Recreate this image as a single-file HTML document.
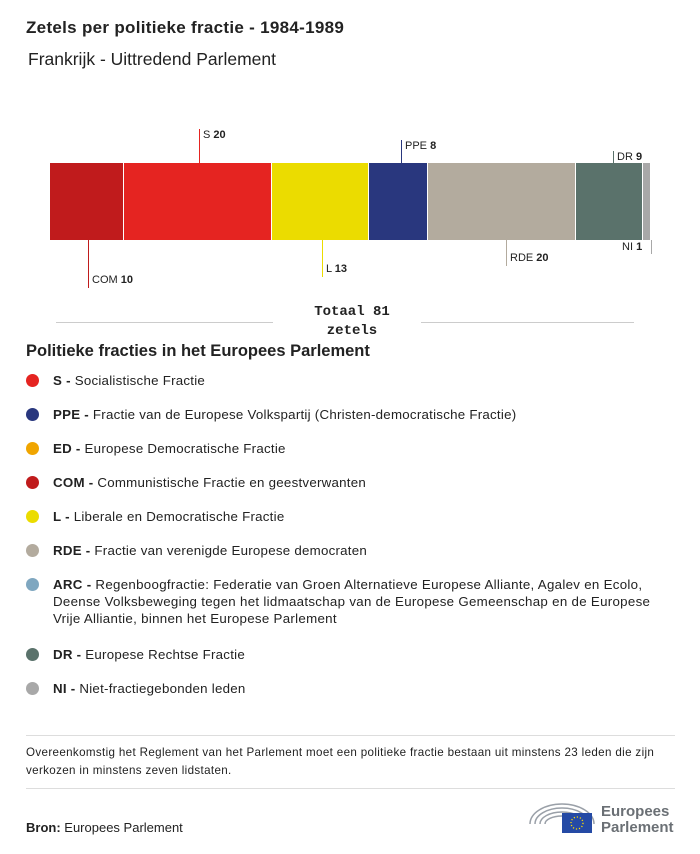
<!DOCTYPE html>
<html><head><meta charset="utf-8"><style>
body{margin:0;width:700px;height:854px;background:#fff;font-family:"Liberation Sans",sans-serif;color:#222;position:relative;overflow:hidden}
.a{position:absolute}
.seg{position:absolute;top:163px;height:77px}
.lab{position:absolute;font-size:11px;white-space:nowrap}
.vl{position:absolute;width:1px}
.dot{position:absolute;left:26px;width:13px;height:13px;border-radius:50%}
.tx{position:absolute;left:53px;font-size:13.3px;line-height:17px;width:640px;white-space:nowrap;letter-spacing:0.25px}
</style></head><body>
<div class="a" style="left:26px;top:18px;font-size:17px;font-weight:bold;letter-spacing:0.3px">Zetels per politieke fractie - 1984-1989</div>
<div class="a" style="left:28px;top:49px;font-size:17.5px">Frankrijk - Uittredend Parlement</div>

<div class="seg" style="left:50px;width:73px;background:#c01b1c"></div>
<div class="seg" style="left:124px;width:147px;background:#e52421"></div>
<div class="seg" style="left:272px;width:96px;background:#ebdc00"></div>
<div class="seg" style="left:369px;width:58px;background:#29377e"></div>
<div class="seg" style="left:428px;width:147px;background:#b3ab9e"></div>
<div class="seg" style="left:576px;width:66px;background:#5a726b"></div>
<div class="seg" style="left:643px;width:7px;background:#a8a8a8"></div>

<div class="vl" style="left:199px;top:129px;height:34px;background:#e52421"></div>
<div class="lab" style="left:203px;top:129px">S <b>20</b></div>
<div class="vl" style="left:401px;top:140px;height:23px;background:#29377e"></div>
<div class="lab" style="left:405px;top:140px">PPE <b>8</b></div>
<div class="vl" style="left:613px;top:151px;height:12px;background:#5a726b"></div>
<div class="lab" style="left:617px;top:151px">DR <b>9</b></div>
<div class="vl" style="left:88px;top:240px;height:48px;background:#c01b1c"></div>
<div class="lab" style="left:92px;top:274px">COM <b>10</b></div>
<div class="vl" style="left:322px;top:240px;height:37px;background:#ebdc00"></div>
<div class="lab" style="left:326px;top:263px">L <b>13</b></div>
<div class="vl" style="left:506px;top:240px;height:26px;background:#b3ab9e"></div>
<div class="lab" style="left:510px;top:252px">RDE <b>20</b></div>
<div class="vl" style="left:651px;top:240px;height:14px;background:#a8a8a8"></div>
<div class="lab" style="left:622px;top:241px">NI <b>1</b></div>

<div class="a" style="left:56px;top:322px;width:217px;height:1px;background:#ccc"></div>
<div class="a" style="left:421px;top:322px;width:213px;height:1px;background:#ccc"></div>
<div class="a" style="left:290px;top:303px;width:124px;text-align:center;font-family:'Liberation Mono',monospace;font-weight:bold;font-size:14px;line-height:19px">Totaal 81<br>zetels</div>

<div class="a" style="left:26px;top:342px;font-size:16.5px;font-weight:bold">Politieke fracties in het Europees Parlement</div>

<div class="dot" style="top:374px;background:#e52421"></div><div class="tx" style="top:372px"><b>S -</b> Socialistische Fractie</div>
<div class="dot" style="top:408px;background:#29377e"></div><div class="tx" style="top:406px"><b>PPE -</b> Fractie van de Europese Volkspartij (Christen-democratische Fractie)</div>
<div class="dot" style="top:442px;background:#f0a500"></div><div class="tx" style="top:440px"><b>ED -</b> Europese Democratische Fractie</div>
<div class="dot" style="top:476px;background:#c01b1c"></div><div class="tx" style="top:474px"><b>COM -</b> Communistische Fractie en geestverwanten</div>
<div class="dot" style="top:510px;background:#ebdc00"></div><div class="tx" style="top:508px"><b>L -</b> Liberale en Democratische Fractie</div>
<div class="dot" style="top:544px;background:#b3ab9e"></div><div class="tx" style="top:542px"><b>RDE -</b> Fractie van verenigde Europese democraten</div>
<div class="dot" style="top:578px;background:#7fa7c0"></div><div class="tx" style="top:576px;letter-spacing:0.3px"><b>ARC -</b> Regenboogfractie: Federatie van Groen Alternatieve Europese Alliante, Agalev en Ecolo,<br>Deense Volksbeweging tegen het lidmaatschap van de Europese Gemeenschap en de Europese<br>Vrije Alliantie, binnen het Europese Parlement</div>
<div class="dot" style="top:648px;background:#5a726b"></div><div class="tx" style="top:646px"><b>DR -</b> Europese Rechtse Fractie</div>
<div class="dot" style="top:682px;background:#a8a8a8"></div><div class="tx" style="top:680px"><b>NI -</b> Niet-fractiegebonden leden</div>

<div class="a" style="left:26px;top:735px;width:649px;height:1px;background:#ddd"></div>
<div class="a" style="left:26px;top:744px;width:660px;font-size:11.6px;line-height:18px;letter-spacing:0.35px;white-space:nowrap">Overeenkomstig het Reglement van het Parlement moet een politieke fractie bestaan uit minstens 23 leden die zijn<br>verkozen in minstens zeven lidstaten.</div>
<div class="a" style="left:26px;top:788px;width:649px;height:1px;background:#ddd"></div>
<div class="a" style="left:26px;top:820px;font-size:13px"><b>Bron:</b> Europees Parlement</div>

<svg class="a" style="left:528px;top:798px" width="70" height="38" viewBox="0 0 70 38">
<g fill="none" stroke="#9aa0a8" stroke-width="1.5">
<path d="M2 26 A32 20 0 0 1 66 26"/><path d="M7 26 A27 16 0 0 1 61 26"/><path d="M12 26 A22 12 0 0 1 56 26"/><path d="M17 26 A17 8 0 0 1 51 26"/></g>
<rect x="34" y="15" width="30" height="20" fill="#254aa5"/>
<circle cx="49" cy="25" r="6" fill="none" stroke="#ffdd00" stroke-width="1.3" stroke-dasharray="1.2 1.9"/>
</svg>
<div class="a" style="left:601px;top:804px;font-size:15px;line-height:16px;color:#6b7075;font-weight:bold">Europees<br>Parlement</div>
</body></html>
